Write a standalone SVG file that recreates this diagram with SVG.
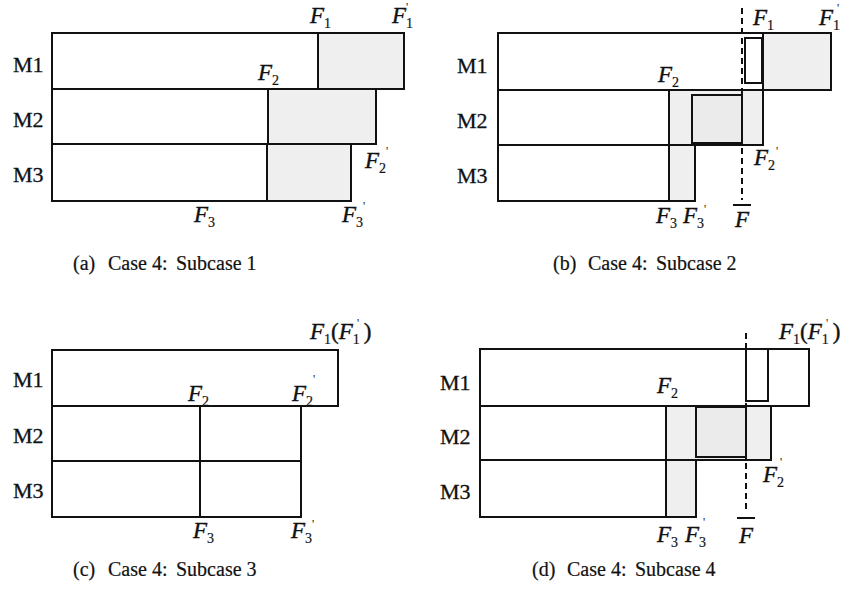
<svg xmlns="http://www.w3.org/2000/svg" width="841" height="590" viewBox="0 0 841 590">
<style>
.box{fill:#fff;stroke:#111;stroke-width:2}
.sh{fill:#efefef;stroke:#111;stroke-width:2}
.sh2{fill:#ebebeb;stroke:#111;stroke-width:2}
.in{fill:#fff;stroke:#111;stroke-width:2}
.ln{stroke:#111;stroke-width:2}
.dash{stroke:#111;stroke-width:2;stroke-dasharray:6 4;fill:none}
.m{font-family:"Liberation Serif",serif;font-size:22px;fill:#111;stroke:#111;stroke-width:0.3}
.f{font-family:"Liberation Serif",serif;font-style:italic;font-size:23px;fill:#111;stroke:#111;stroke-width:0.4}
.s{font-style:normal;font-size:14px;stroke-width:0.2}
.p{font-family:"Liberation Serif",serif;font-size:12px;fill:#111}
.n{font-style:normal}
.cap{font-family:"Liberation Serif",serif;font-size:20px;fill:#111;stroke:#111;stroke-width:0.2}
</style>
<rect width="841" height="590" fill="#fff"/>

<!-- Panel (a) -->
<g id="a-M1">
<rect class="box" x="52" y="33" width="352" height="56"/>
<rect class="sh" x="318" y="33" width="86" height="56"/>
<text class="m" x="13" y="72">M1</text>
</g>
<g id="a-M2">
<rect class="box" x="52" y="89" width="324" height="55"/>
<rect class="sh" x="268" y="89" width="108" height="55"/>
<text class="m" x="13" y="127">M2</text>
</g>
<g id="a-M3">
<rect class="box" x="52" y="144" width="299" height="57"/>
<rect class="sh" x="267" y="144" width="84" height="57"/>
<text class="m" x="13" y="182">M3</text>
</g>
<g id="a-labels">
<text class="f" x="310" y="23">F<tspan class="s" dy="5">1</tspan></text>
<text class="f" x="392" y="23">F<tspan class="s" dy="5">1</tspan></text>
<text class="p" x="406" y="11">'</text>
<text class="f" x="258" y="80">F<tspan class="s" dy="5">2</tspan></text>
<text class="f" x="365" y="168">F<tspan class="s" dy="5">2</tspan></text>
<text class="p" x="386" y="155">'</text>
<text class="f" x="194" y="222">F<tspan class="s" dy="5">3</tspan></text>
<text class="f" x="342" y="222">F<tspan class="s" dy="5">3</tspan></text>
<text class="p" x="363" y="210">'</text>
<text class="cap" x="73" y="270">(a)</text>
<text class="cap" x="108" y="270">Case 4:</text>
<text class="cap" x="176" y="270">Subcase 1</text>
</g>

<!-- Panel (b) -->
<g id="b-M1">
<rect class="box" x="498" y="33" width="333" height="57"/>
<rect class="sh" x="763" y="33" width="68" height="57"/>
<rect class="in" x="745" y="38" width="17" height="45"/>
<text class="m" x="457" y="73">M1</text>
</g>
<g id="b-M2">
<rect class="box" x="498" y="90" width="265" height="55"/>
<rect class="sh" x="669" y="90" width="94" height="55"/>
<rect class="sh2" x="692" y="95" width="50" height="48"/>
<text class="m" x="457" y="128">M2</text>
</g>
<g id="b-M3">
<rect class="box" x="498" y="145" width="197" height="56"/>
<rect class="sh" x="669" y="145" width="26" height="56"/>
<text class="m" x="457" y="183">M3</text>
</g>
<g id="b-guides">
<line class="dash" x1="742" y1="8" x2="742" y2="200"/>
<line class="ln" x1="733" y1="205" x2="751" y2="205"/>
</g>
<g id="b-labels">
<text class="f" x="753" y="25">F<tspan class="s" dy="5">1</tspan></text>
<text class="f" x="819" y="25">F<tspan class="s" dy="5">1</tspan></text>
<text class="p" x="837" y="12">'</text>
<text class="f" x="754" y="165">F<tspan class="s" dy="5">2</tspan></text>
<text class="p" x="776" y="155">'</text>
<text class="f" x="658" y="82">F<tspan class="s" dy="5">2</tspan></text>
<text class="f" x="656" y="223">F<tspan class="s" dy="5">3</tspan></text>
<text class="f" x="683" y="223">F<tspan class="s" dy="5">3</tspan></text>
<text class="p" x="704" y="213">'</text>
<text class="f" x="735" y="227">F</text>
<text class="cap" x="553" y="270">(b)</text>
<text class="cap" x="588" y="270">Case 4:</text>
<text class="cap" x="656" y="270">Subcase 2</text>
</g>

<!-- Panel (c) -->
<g id="c-M1">
<rect class="box" x="52" y="350" width="286" height="56"/>
<text class="m" x="13" y="387">M1</text>
</g>
<g id="c-M2">
<rect class="box" x="52" y="406" width="249" height="55"/>
<line class="ln" x1="200" y1="406" x2="200" y2="461"/>
<text class="m" x="13" y="443">M2</text>
</g>
<g id="c-M3">
<rect class="box" x="52" y="461" width="249" height="56"/>
<line class="ln" x1="200" y1="461" x2="200" y2="517"/>
<text class="m" x="13" y="498">M3</text>
</g>
<g id="c-labels">
<text class="f" x="310" y="339">F<tspan class="s" dy="5">1</tspan><tspan class="n" dy="-5">(</tspan>F<tspan class="s" dy="5">1</tspan><tspan class="n" dy="-5" dx="4">)</tspan></text>
<text class="p" x="357" y="327">'</text>
<text class="f" x="188" y="401">F<tspan class="s" dy="5">2</tspan></text>
<text class="f" x="292" y="401">F<tspan class="s" dy="5">2</tspan></text>
<text class="p" x="313" y="383">'</text>
<text class="f" x="193" y="538">F<tspan class="s" dy="5">3</tspan></text>
<text class="f" x="291" y="538">F<tspan class="s" dy="5">3</tspan></text>
<text class="p" x="312" y="528">'</text>
<text class="cap" x="73" y="576">(c)</text>
<text class="cap" x="108" y="576">Case 4:</text>
<text class="cap" x="176" y="576">Subcase 3</text>
</g>

<!-- Panel (d) -->
<g id="d-M1">
<rect class="box" x="480" y="349" width="329" height="57"/>
<rect class="in" x="746" y="349" width="22" height="52"/>
<text class="m" x="440" y="390">M1</text>
</g>
<g id="d-M2">
<rect class="box" x="480" y="406" width="291" height="54"/>
<rect class="sh" x="666" y="406" width="105" height="54"/>
<rect class="sh2" x="696" y="407" width="50" height="50"/>
<text class="m" x="440" y="444">M2</text>
</g>
<g id="d-M3">
<rect class="box" x="480" y="460" width="216" height="57"/>
<rect class="sh" x="666" y="460" width="30" height="57"/>
<text class="m" x="440" y="499">M3</text>
</g>
<g id="d-guides">
<line class="dash" x1="746" y1="333" x2="746" y2="512"/>
<line class="ln" x1="737" y1="518" x2="755" y2="518"/>
</g>
<g id="d-labels">
<text class="f" x="779" y="339">F<tspan class="s" dy="5">1</tspan><tspan class="n" dy="-5">(</tspan>F<tspan class="s" dy="5">1</tspan><tspan class="n" dy="-5" dx="4">)</tspan></text>
<text class="p" x="826" y="327">'</text>
<text class="f" x="657" y="393">F<tspan class="s" dy="5">2</tspan></text>
<text class="f" x="763" y="482">F<tspan class="s" dy="5">2</tspan></text>
<text class="p" x="780" y="466">'</text>
<text class="f" x="657" y="542">F<tspan class="s" dy="5">3</tspan></text>
<text class="f" x="685" y="542">F<tspan class="s" dy="5">3</tspan></text>
<text class="p" x="703" y="526">'</text>
<text class="f" x="739" y="543">F</text>
<text class="cap" x="532" y="576">(d)</text>
<text class="cap" x="567" y="576">Case 4:</text>
<text class="cap" x="635" y="576">Subcase 4</text>
</g>
</svg>
